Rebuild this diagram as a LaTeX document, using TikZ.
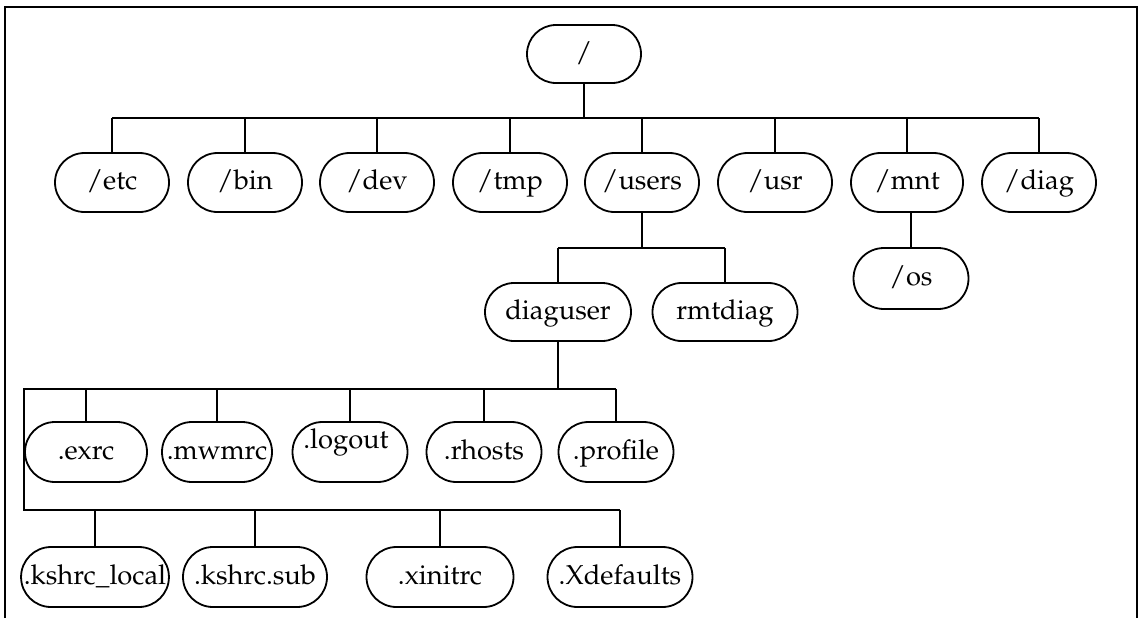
\documentclass[tikz,border=0pt]{standalone}
\usepackage[T1]{fontenc}
\renewcommand{\rmdefault}{ppl}
\usetikzlibrary{shapes.misc}
\begin{document}
\begin{tikzpicture}[x=0.75pt,y=-0.75pt,
  dirnode/.style={draw, line width=1.35pt, rounded rectangle,
    rounded rectangle arc length=180,
    minimum height=44pt, inner sep=0pt, text height=15pt, text depth=4pt,
    font=\fontsize{20.5}{24}\selectfont},
  w/.style={minimum width=#1*0.75pt},
  h/.style={minimum height=#1*0.75pt},
  link/.style={line width=1.35pt}]
\useasboundingbox (0,0) rectangle (1142,618);

% outer frame, open at the bottom
\draw[link] (5,618) -- (5,7) -- (1137,7) -- (1137,618);

% root and first level
\node[dirnode, w=114, h=58] (root) at (584,54) {/};
\node[dirnode, w=114, h=59] (etc)   at (112,182.5)  {/etc};
\node[dirnode, w=114, h=59] (bin)   at (245,182.5)  {/bin};
\node[dirnode, w=114, h=59] (dev)   at (377,182.5)  {/dev};
\node[dirnode, w=114, h=59] (tmp)   at (510,182.5)  {/tmp};
\node[dirnode, w=114, h=59] (users) at (642,182.5)  {/users};
\node[dirnode, w=114, h=59] (usr)   at (775,182.5)  {/usr};
\node[dirnode, w=112, h=59] (mnt)   at (907,182.5)  {/mnt};
\node[dirnode, w=114, h=59] (diag)  at (1039,182.5) {/diag};

% second level
\node[dirnode, w=146, h=58] (diaguser) at (558,312) {diaguser};
\node[dirnode, w=145, h=58] (rmtdiag)  at (725,312) {rmtdiag};
\node[dirnode, w=115, h=61] (os)       at (911,278.5) {/os};

% files of diaguser, first row
\node[dirnode, w=122, h=60] (exrc)    at (86,452)  {.exrc};
\node[dirnode, w=110, h=60] (mwmrc)   at (217,452) {.mwmrc};
\node[dirnode, w=115, h=60] (logout)  at (350,452) {\makebox[0pt]{\raisebox{8pt}{.logout}\kern6pt}};
\node[dirnode, w=115, h=60] (rhosts)  at (484,452) {.rhosts};
\node[dirnode, w=115, h=60] (profile) at (616,452) {.profile};

% files of diaguser, second row
\node[dirnode, w=144, h=60] (kshlocal)  at (95,577)  {.kshrc\_local};
\node[dirnode, w=144, h=60] (kshsub)    at (255,577) {.kshrc.sub};
\node[dirnode, w=147, h=60] (xinitrc)   at (440,577) {.xinitrc};
\node[dirnode, w=145, h=60] (xdefaults) at (620,577) {.Xdefaults};

% bus levels
\coordinate (busA) at (0,118);
\coordinate (busB) at (0,248);
\coordinate (busC) at (24,389);
\coordinate (busD) at (24,510);

% root -> first level
\draw[link] (root.south) -- (root.south |- busA);
\draw[link] (etc.north |- busA) -- (diag.north |- busA);
\foreach \n in {etc,bin,dev,tmp,users,usr,mnt,diag}
  \draw[link] (\n.north) -- (\n.north |- busA);

% /users -> diaguser, rmtdiag
\draw[link] (users.south) -- (users.south |- busB);
\draw[link] (diaguser.north |- busB) -- (rmtdiag.north |- busB);
\foreach \n in {diaguser,rmtdiag}
  \draw[link] (\n.north) -- (\n.north |- busB);

% /mnt -> /os
\draw[link] (os.north) -- (os.north |- mnt.south);

% diaguser -> its files
\draw[link] (diaguser.south) -- (diaguser.south |- busC);
\draw[link] (profile.north |- busC) -- (busC) -- (busD) -- (xdefaults.north |- busD);
\foreach \n in {exrc,mwmrc,logout,rhosts,profile}
  \draw[link] (\n.north) -- (\n.north |- busC);
\foreach \n in {kshlocal,kshsub,xinitrc,xdefaults}
  \draw[link] (\n.north) -- (\n.north |- busD);
\end{tikzpicture}
\end{document}
